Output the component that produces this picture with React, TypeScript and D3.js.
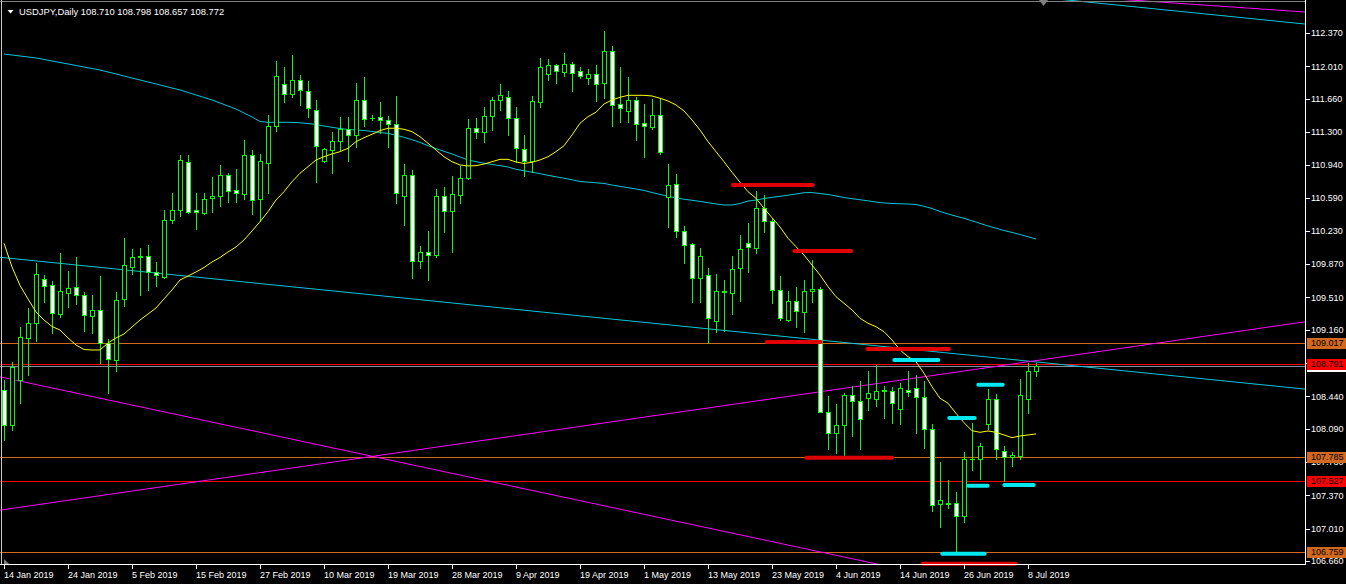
import React from 'react';
import * as d3 from 'd3';

const opens = [108.509,108.131,108.618,109.075,109.237,109.707,109.642,109.335,109.562,109.620,109.533,109.313,109.371,109.021,108.837,109.497,109.843,109.944,109.955,109.789,109.735,110.351,110.453,110.978,110.453,110.427,110.583,110.604,110.831,110.669,110.632,111.048,110.570,110.968,111.361,111.815,111.707,111.859,111.740,111.534,110.983,111.108,111.199,111.329,111.264,111.642,111.454,111.459,111.426,111.383,110.611,110.831,109.901,109.999,109.966,110.604,110.442,110.621,110.799,111.340,111.296,111.476,111.642,111.675,111.448,111.112,110.989,111.627,111.930,112.021,111.952,112.032,111.956,111.887,111.924,111.833,112.172,111.599,111.530,111.642,111.394,111.350,111.480,110.593,110.734,110.226,110.085,109.717,109.750,109.259,109.577,109.555,109.832,110.096,110.042,110.474,110.334,109.588,109.263,109.469,109.350,109.577,109.598,108.268,108.041,108.128,108.452,108.387,108.420,108.409,108.502,108.495,108.301,108.509,108.528,108.430,108.084,107.273,107.280,107.284,107.144,107.766,107.760,108.145,108.409,107.847,107.785,107.799,108.415,108.710];
const highs = [108.618,108.812,109.191,109.393,109.880,109.753,109.691,109.988,109.796,109.944,109.566,109.533,109.742,109.058,109.566,110.150,110.031,110.042,110.074,109.890,110.453,110.637,111.051,111.051,110.637,110.637,110.810,110.943,110.853,110.899,111.213,111.105,111.062,111.480,112.067,111.999,112.132,111.916,111.851,111.646,111.123,111.300,111.459,111.459,111.833,111.894,111.480,111.624,111.473,111.689,110.953,110.889,110.067,110.229,110.683,110.705,110.824,110.932,111.440,111.448,111.570,111.678,111.819,111.743,111.570,111.267,111.689,112.097,112.092,112.038,112.154,112.057,112.002,111.981,112.021,112.392,112.226,112.002,111.894,111.681,111.602,111.656,111.656,110.953,110.845,110.283,110.096,110.042,109.826,109.764,109.696,109.955,110.186,110.315,110.665,110.615,110.355,109.742,109.580,109.623,109.699,109.915,109.620,108.445,108.358,108.477,108.549,108.607,108.715,108.780,108.549,108.539,108.585,108.715,108.668,108.607,108.139,107.728,107.536,107.406,107.839,108.149,107.936,108.520,108.466,107.904,107.836,108.625,108.805,108.798];
const lows = [107.969,108.077,108.369,108.672,109.043,109.464,109.129,109.302,109.410,109.439,109.147,109.123,108.798,108.480,108.718,109.421,109.764,109.537,109.591,109.634,109.724,110.319,110.391,110.424,110.247,110.413,110.434,110.499,110.546,110.546,110.572,110.410,110.337,110.643,111.314,111.627,111.681,111.592,111.465,110.762,110.975,110.859,111.105,110.989,111.134,111.368,111.429,111.292,111.141,110.528,110.291,109.721,109.829,109.699,109.944,110.221,110.005,110.528,110.791,111.238,111.195,111.321,111.537,111.267,110.978,110.827,110.870,111.573,111.862,111.833,111.908,111.746,111.880,111.819,111.638,111.670,111.368,111.411,111.411,111.213,111.032,111.332,111.058,110.269,110.161,109.886,109.458,109.464,109.014,109.140,109.147,109.328,109.472,109.789,109.994,110.221,109.447,109.261,109.259,109.194,109.140,109.464,108.266,107.875,107.831,107.796,108.015,107.868,108.293,108.336,108.210,108.156,108.145,108.448,108.048,107.885,107.204,107.031,107.237,106.772,107.085,107.644,107.550,108.084,107.760,107.529,107.691,107.766,108.264,108.657];
const closes = [108.131,108.758,109.083,109.231,109.761,109.637,109.345,109.577,109.609,109.533,109.317,109.371,109.021,108.848,109.479,109.858,109.944,109.955,109.786,109.750,110.345,110.453,110.994,110.438,110.431,110.572,110.604,110.831,110.665,110.643,111.048,110.567,110.983,111.361,111.902,111.707,111.859,111.751,111.556,111.145,111.112,111.199,111.329,111.264,111.642,111.437,111.456,111.426,111.383,110.637,110.831,109.901,109.999,109.966,110.604,110.442,110.626,110.799,111.340,111.296,111.476,111.642,111.696,111.448,111.121,110.989,111.632,111.999,112.021,111.962,112.032,111.941,111.902,111.924,111.822,112.172,111.588,111.556,111.642,111.389,111.361,111.480,111.080,110.723,110.226,110.074,109.724,109.955,109.285,109.577,109.570,109.821,110.031,110.053,110.474,110.334,109.588,109.285,109.469,109.361,109.577,109.598,108.268,108.041,108.128,108.452,108.387,108.193,108.474,108.499,108.504,108.366,108.528,108.485,108.430,108.084,107.263,107.317,107.282,107.144,107.760,107.768,107.901,108.409,107.868,107.785,107.806,108.452,108.712,108.772];

const maFast = [110.096,109.840,109.640,109.494,109.353,109.266,109.196,109.158,109.072,108.996,108.947,108.942,108.942,109.018,109.072,109.115,109.191,109.266,109.331,109.396,109.494,109.591,109.699,109.742,109.786,109.834,109.894,109.942,110.002,110.056,110.132,110.229,110.329,110.438,110.564,110.654,110.762,110.853,110.924,110.997,111.032,111.062,111.087,111.123,111.195,111.238,111.275,111.314,111.340,111.340,111.329,111.303,111.249,111.177,111.105,111.032,110.978,110.943,110.932,110.935,110.953,110.978,111.004,111.004,110.975,110.959,110.972,110.997,111.032,111.087,111.151,111.267,111.394,111.465,111.513,111.602,111.646,111.675,111.696,111.696,111.696,111.689,111.664,111.635,111.592,111.527,111.429,111.321,111.195,111.087,110.978,110.864,110.756,110.654,110.583,110.474,110.373,110.272,110.150,110.059,109.969,109.861,109.753,109.627,109.518,109.447,109.375,109.285,109.231,109.194,109.140,109.050,108.942,108.870,108.815,108.690,108.545,108.420,108.366,108.257,108.156,108.069,108.052,108.066,108.052,108.023,107.994,108.012,108.023,108.034];
const maSlow = [112.143,112.132,112.121,112.111,112.100,112.084,112.067,112.051,112.035,112.019,112.002,111.986,111.970,111.948,111.927,111.905,111.883,111.862,111.840,111.819,111.797,111.775,111.754,111.727,111.700,111.673,111.646,111.613,111.581,111.548,111.505,111.462,111.413,111.404,111.404,111.404,111.404,111.399,111.391,111.381,111.364,111.350,111.337,111.327,111.321,111.316,111.305,111.294,111.285,111.265,111.242,111.216,111.186,111.152,111.120,111.091,111.062,111.029,110.997,110.979,110.962,110.948,110.935,110.921,110.896,110.880,110.865,110.849,110.831,110.815,110.799,110.783,110.764,110.757,110.750,110.743,110.726,110.711,110.697,110.683,110.667,110.645,110.624,110.605,110.588,110.572,110.561,110.549,110.535,110.521,110.510,110.510,110.526,110.553,110.564,110.580,110.593,110.604,110.616,110.629,110.643,110.644,110.634,110.624,110.607,110.591,110.578,110.567,110.555,110.542,110.532,110.526,110.523,110.521,110.515,110.496,110.472,110.440,110.413,110.389,110.366,110.339,110.311,110.283,110.259,110.234,110.213,110.191,110.167,110.142];

const priceTicks = [112.370,112.010,111.660,111.300,110.940,110.590,110.230,109.870,109.510,109.160,108.800,108.440,108.090,107.730,107.370,107.010,106.660];
const dateLabels = ['14 Jan 2019','24 Jan 2019','5 Feb 2019','15 Feb 2019','27 Feb 2019','10 Mar 2019','19 Mar 2019','28 Mar 2019','9 Apr 2019','19 Apr 2019','1 May 2019','13 May 2019','23 May 2019','4 Jun 2019','14 Jun 2019','26 Jun 2019','8 Jul 2019'];

// horizontal price levels
const levelPrices = [109.017, 108.791, 107.785, 107.527, 106.759];
const levelKinds = ['orange', 'red', 'orange', 'red', 'orange'];
const bidPrice = 108.772;

// short thick level marks: [fromBar, toBar, price]
const redMarks = [[90.875,101.375,110.726],[98.54,106.16,110.013],[95.125,102.34,109.028],[107.66,118.375,108.953],[100.04,111.29,107.777],[114.59,126.71,106.631]];
const cyanMarks = [[111.04,117.04,108.834],[121.54,125.09,108.567],[117.91,121.59,108.207],[120.29,123.21,107.474],[124.79,128.96,107.482],[117.04,122.84,106.739]];

// trendlines: [[barA, priceA],[barB, priceB]]
const trendA = [[0,109.940],[129,108.813]];
const trendB = [[96,108.415],[129,108.827]];
const trendC = [[0,108.642],[106,106.685]];
const trendD = [[140.75,112.727],[162.625,112.597]];
const trendE = [[129,112.761],[162.625,112.467]];

const GREEN = '#00ff00';
const ORANGE = '#d2691e';
const RED = '#ff0000';
const CYAN_LINE = '#00c8d8';
const CYAN_MARK = '#00e8f0';
const MAGENTA = '#ff00ff';
const FONT = '"Liberation Sans", Arial, sans-serif';

export default function App() {
  const plotR = 1305, plotB = 564;
  const x = d3.scaleLinear().domain([0, 129]).range([4, 1036]);
  const y = d3.scaleLinear().domain([106.660, 112.370]).range([561, 33]);

  const line = d3.line<number>().x((_, i) => x(i)).y(v => y(v));

  const ray = (pts: number[][]) => {
    const ax = x(pts[0][0]), ay = y(pts[0][1]);
    const bx = x(pts[1][0]), by = y(pts[1][1]);
    const k = (by - ay) / (bx - ax);
    return { x1: 0, y1: ay + (0 - ax) * k, x2: plotR, y2: ay + (plotR - ax) * k };
  };
  const trends: [number[][], string][] = [[trendA, CYAN_LINE], [trendB, MAGENTA], [trendC, MAGENTA], [trendD, MAGENTA], [trendE, CYAN_LINE]];
  const txt = { fontFamily: FONT, fontSize: 9, stroke: 'none' } as const;

  return (
    <svg width={1346} height={584} style={{ position: 'absolute', left: 0, top: 0, background: '#000', display: 'block' }}>
      <defs>
        <clipPath id="plot"><rect x={0} y={0} width={plotR} height={plotB} /></clipPath>
      </defs>
      <rect x={0} y={0} width={1346} height={584} fill="#000" />
      <g clipPath="url(#plot)">
        {levelPrices.map((p, i) => (
          <line key={'lv' + i} x1={0} x2={plotR} y1={Math.round(y(p)) + 0.5} y2={Math.round(y(p)) + 0.5}
            stroke={levelKinds[i] === 'red' ? RED : ORANGE} strokeWidth={1} shapeRendering="crispEdges" />
        ))}
        <line x1={0} x2={plotR} y1={Math.round(y(bidPrice)) + 0.5} y2={Math.round(y(bidPrice)) + 0.5} stroke="#8090a0" strokeWidth={1} shapeRendering="crispEdges" />
        {trends.map(([pts, col], i) => {
          const r = ray(pts);
          return <line key={'tr' + i} {...r} stroke={col} strokeWidth={1} />;
        })}
        <path d={line(maSlow) || ''} fill="none" stroke={CYAN_LINE} strokeWidth={1} />
        {opens.map((o, i) => {
          const cx = Math.round(x(i));
          const c = closes[i];
          const yH = Math.round(y(highs[i])), yL = Math.round(y(lows[i]));
          const yT = Math.round(y(Math.max(o, c))), yBt = Math.round(y(Math.min(o, c)));
          const bull = c >= o;
          return (
            <g key={'c' + i} shapeRendering="crispEdges">
              <rect x={cx} y={yH} width={1} height={yL - yH + 1} fill={GREEN} />
              <rect x={cx - 2} y={yT} width={5} height={yBt - yT + 1} fill={GREEN} />
              {yBt - yT >= 2 && <rect x={cx - 1} y={yT + 1} width={3} height={yBt - yT - 1} fill={bull ? '#000' : '#fff'} />}
            </g>
          );
        })}
        <path d={line(maFast) || ''} fill="none" stroke="#ffff00" strokeWidth={1} />
      </g>
      {redMarks.map((m, i) => (
        <line key={'rm' + i} x1={x(m[0]) + 2} x2={x(m[1]) - 2} y1={y(m[2])} y2={y(m[2])} stroke="#e00000" strokeWidth={4} strokeLinecap="round" />
      ))}
      {cyanMarks.map((m, i) => (
        <line key={'cm' + i} x1={x(m[0]) + 2} x2={x(m[1]) - 2} y1={y(m[2])} y2={y(m[2])} stroke={CYAN_MARK} strokeWidth={4} strokeLinecap="round" />
      ))}
      {/* frame */}
      <rect x={0} y={1} width={plotR} height={1} fill="#808080" shapeRendering="crispEdges" />
      <rect x={1} y={0} width={1} height={plotB} fill="#c8c8c8" shapeRendering="crispEdges" />
      <rect x={0} y={plotB} width={plotR + 1} height={1} fill="#fff" shapeRendering="crispEdges" />
      <rect x={plotR} y={0} width={1} height={plotB + 1} fill="#fff" shapeRendering="crispEdges" />
      <polygon points="1039,0 1048,0 1043.5,6" fill="#808080" />
      <polygon points="4,559 4,564 9,564" fill="#808080" />
      {/* header */}
      <polygon points="7.5,10 13.5,10 10.5,13.5" fill="#fff" />
      <text x={19} y={15} fill="#fff" {...txt} fontSize={9.4}>USDJPY,Daily  108.710 108.798 108.657 108.772</text>
      {/* price axis */}
      {priceTicks.map((p, i) => (
        <g key={'pt' + i}>
          <rect x={plotR + 1} y={Math.round(y(p))} width={4} height={1} fill="#fff" shapeRendering="crispEdges" />
          <text x={1311} y={y(p)} dy="0.36em" fill="#fff" {...txt}>{p.toFixed(3)}</text>
        </g>
      ))}
      <g>
        <rect x={1307} y={Math.round(y(bidPrice)) - 5} width={39} height={11} fill="#fff" />
        <text x={1311} y={y(bidPrice)} dy="0.36em" fill="#000" {...txt}>{bidPrice.toFixed(3)}</text>
      </g>
      {levelPrices.map((p, i) => (
        <g key={'ll' + i}>
          <rect x={1307} y={Math.round(y(p)) - 5} width={39} height={11} fill={levelKinds[i] === 'red' ? RED : ORANGE} />
          <text x={1311} y={y(p)} dy="0.36em" fill="#000" {...txt}>{p.toFixed(3)}</text>
        </g>
      ))}
      {/* time axis */}
      {dateLabels.map((d, i) => {
        const tx = Math.round(x(i * 8));
        return (
          <g key={'dl' + i}>
            <rect x={tx} y={plotB + 1} width={1} height={4} fill="#fff" shapeRendering="crispEdges" />
            <text x={tx} y={577.5} fill="#fff" {...txt}>{d}</text>
          </g>
        );
      })}
    </svg>
  );
}
